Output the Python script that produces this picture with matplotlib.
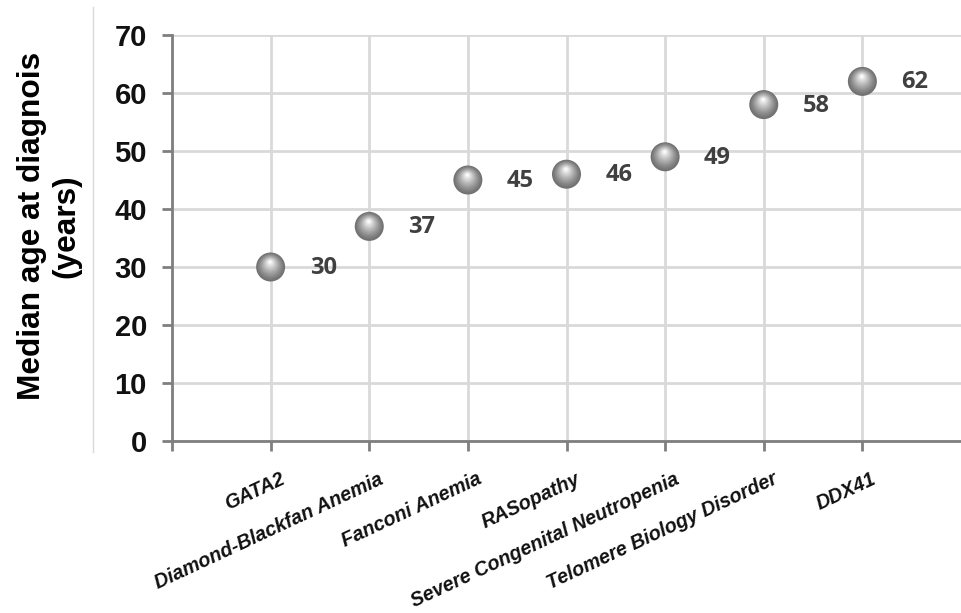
import matplotlib.pyplot as plt
import matplotlib.transforms as mtransforms
from matplotlib.lines import Line2D

# data
categories = ['GATA2', 'Diamond-Blackfan Anemia', 'Fanconi Anemia', 'RASopathy',
              'Severe Congenital Neutropenia', 'Telomere Biology Disorder', 'DDX41']
median_age = [30, 37, 45, 46, 49, 58, 62]
y_ticks = [0, 10, 20, 30, 40, 50, 60, 70]

plt.rcParams['font.family'] = ['Liberation Sans', 'DejaVu Sans']

fig = plt.figure(figsize=(9.61, 6.13), dpi=100)
ax = fig.add_axes([172 / 961, 1 - 441 / 613, 1 - 172 / 961, (441 - 35) / 613])

x = list(range(1, len(categories) + 1))

# grid + axes styling
ax.set_xlim(0, len(categories) + 1)
ax.set_ylim(0, 70)
ax.set_yticks(y_ticks)
ax.set_xticks(range(0, len(categories) + 1))
ax.grid(True, color='#d9d9d9', lw=2)
ax.set_axisbelow(True)
for s in ['top', 'right']:
    ax.spines[s].set_visible(False)
for s in ['left', 'bottom']:
    ax.spines[s].set_color('#7f7f7f')
    ax.spines[s].set_linewidth(2)
    ax.spines[s].set_zorder(3)
ax.tick_params(axis='both', direction='out', color='#7f7f7f', width=2, length=7)
ax.tick_params(axis='y', labelsize=21, pad=11)
for lbl in ax.get_yticklabels():
    lbl.set_fontweight('bold')
    lbl.set_color('#111111')

# rotated category labels
ax.set_xticklabels([''] + categories)
shift = mtransforms.ScaledTranslation(9 / 100, -14 / 100, fig.dpi_scale_trans)
for lbl in ax.get_xticklabels():
    lbl.set_rotation(25)
    lbl.set_rotation_mode('anchor')
    lbl.set_ha('right')
    lbl.set_va('top')
    lbl.set_fontsize(14.2)
    lbl.set_fontweight('bold')
    lbl.set_fontstyle('italic')
    lbl.set_color('#111111')
    lbl.set_transform(lbl.get_transform() + shift)

ax.set_ylabel('Median age at diagnois\n(years)', fontsize=22.8, fontweight='bold',
              linespacing=1.2, color='#000000')
ax.yaxis.set_label_coords(-0.115, 0.53)

# shaded sphere markers: stacked circles getting lighter toward a highlight
n_layers = 14
for i in range(n_layers):
    f = i / (n_layers - 1)
    r_px = 14.5 * (1 - f) + 1.5 * f
    g = 0.44 + 0.54 * f ** 1.2
    tr = mtransforms.offset_copy(ax.transData, fig=fig, x=-0.5 * f, y=5 * f, units='dots')
    ax.scatter(x, median_age, s=(r_px * 2 * 0.72) ** 2, color=(g, g, g),
               edgecolors='none', transform=tr, zorder=4 + i, clip_on=False)

# value labels
for xi, yi in zip(x, median_age):
    ax.annotate(str(yi), (xi, yi), xytext=(39, -1), textcoords='offset pixels',
                ha='left', va='center', fontsize=17, fontweight='bold',
                color='#404040', family=['Open Sans', 'DejaVu Sans'], zorder=30)

# thin frame line on the left
fig.add_artist(Line2D([93 / 961, 93 / 961], [1 - 452 / 613, 1 - 7 / 613],
                      color='#d9d9d9', lw=1))

fig.savefig('out.png', dpi=100)
